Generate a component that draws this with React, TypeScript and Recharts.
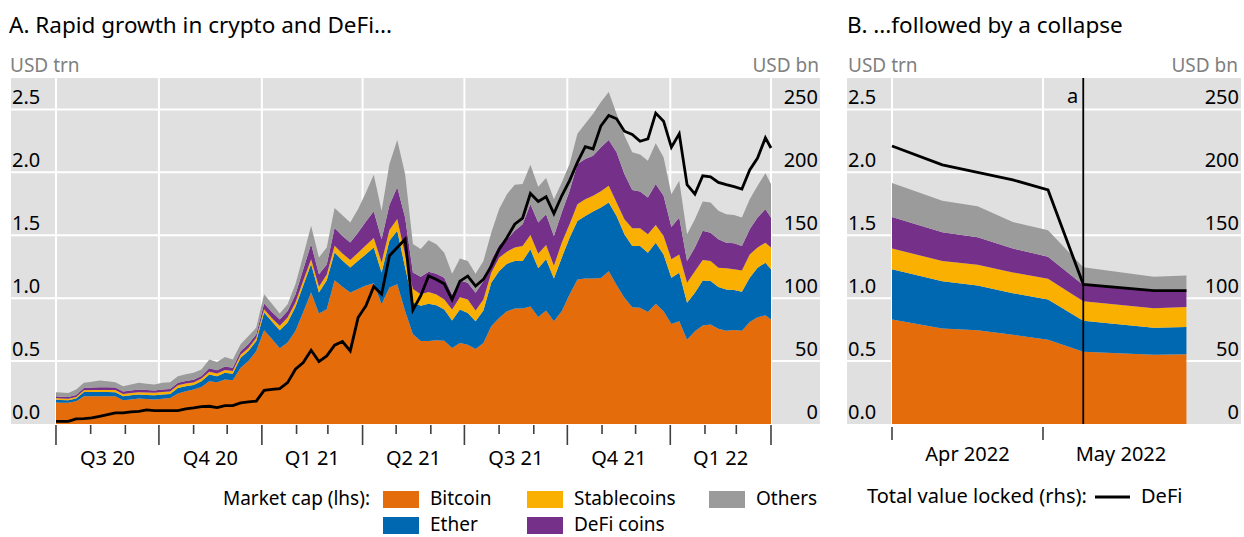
import { ComposedChart, Area, Line, XAxis, YAxis, CartesianGrid, ReferenceLine } from 'recharts';

const FONT = '"Noto Sans", sans-serif';

// Panel A: weekly observations, x = days since 1 Jul 2020
const daysA = [0, ...Array.from({ length: 91 }, (_, k) => 4 + 7 * k), 639];

const bitcoinA = [
  0.170, 0.168, 0.168, 0.181, 0.221, 0.221, 0.221, 0.221, 0.221, 0.189,
  0.195, 0.202, 0.198, 0.194, 0.200, 0.207, 0.242, 0.260, 0.274, 0.295,
  0.340, 0.332, 0.354, 0.348, 0.447, 0.500, 0.580, 0.745, 0.675, 0.602,
  0.647, 0.740, 0.890, 1.045, 0.878, 0.912, 1.143, 1.090, 1.045, 1.072,
  1.100, 1.119, 0.952, 1.085, 1.111, 0.899, 0.714, 0.660, 0.660, 0.665,
  0.662, 0.604, 0.644, 0.630, 0.596, 0.644, 0.777, 0.843, 0.896, 0.918,
  0.918, 0.934, 0.851, 0.902, 0.816, 0.896, 1.029, 1.149, 1.157, 1.157,
  1.160, 1.215, 1.104, 1.003, 0.928, 0.923, 0.891, 0.955, 0.896, 0.795,
  0.816, 0.670, 0.737, 0.782, 0.790, 0.758, 0.742, 0.747, 0.742, 0.811,
  0.848, 0.864, 0.830,
];
const etherA = [
  0.025, 0.022, 0.021, 0.021, 0.034, 0.034, 0.034, 0.033, 0.032, 0.032,
  0.033, 0.032, 0.033, 0.035, 0.035, 0.032, 0.045, 0.040, 0.035, 0.045,
  0.054, 0.048, 0.053, 0.051, 0.080, 0.080, 0.080, 0.141, 0.140, 0.143,
  0.159, 0.190, 0.210, 0.226, 0.167, 0.231, 0.220, 0.210, 0.199, 0.225,
  0.250, 0.284, 0.252, 0.371, 0.425, 0.345, 0.252, 0.279, 0.295, 0.279,
  0.248, 0.218, 0.266, 0.253, 0.220, 0.258, 0.345, 0.372, 0.378, 0.377,
  0.377, 0.454, 0.386, 0.407, 0.341, 0.426, 0.452, 0.465, 0.497, 0.532,
  0.560, 0.546, 0.550, 0.505, 0.487, 0.492, 0.471, 0.486, 0.452, 0.367,
  0.386, 0.293, 0.306, 0.359, 0.346, 0.330, 0.327, 0.319, 0.309, 0.351,
  0.394, 0.418, 0.399,
];
const stablecoinsA = [
  0.012, 0.012, 0.012, 0.013, 0.014, 0.015, 0.016, 0.017, 0.017, 0.018,
  0.018, 0.019, 0.019, 0.019, 0.020, 0.020, 0.021, 0.021, 0.021, 0.022,
  0.022, 0.022, 0.023, 0.023, 0.024, 0.025, 0.025, 0.026, 0.025, 0.035,
  0.040, 0.035, 0.040, 0.039, 0.045, 0.045, 0.053, 0.055, 0.060, 0.065,
  0.070, 0.075, 0.080, 0.085, 0.093, 0.100, 0.106, 0.093, 0.095, 0.085,
  0.079, 0.088, 0.098, 0.106, 0.086, 0.087, 0.080, 0.107, 0.096, 0.107,
  0.120, 0.115, 0.117, 0.114, 0.100, 0.119, 0.107, 0.133, 0.133, 0.125,
  0.130, 0.133, 0.107, 0.120, 0.141, 0.141, 0.146, 0.141, 0.147, 0.147,
  0.146, 0.159, 0.172, 0.162, 0.159, 0.154, 0.168, 0.163, 0.170, 0.186,
  0.160, 0.159, 0.173,
];
const defiCoinsA = [
  0.014, 0.014, 0.014, 0.016, 0.018, 0.020, 0.022, 0.021, 0.020, 0.019,
  0.020, 0.021, 0.020, 0.019, 0.020, 0.020, 0.020, 0.021, 0.022, 0.020,
  0.027, 0.025, 0.028, 0.025, 0.027, 0.030, 0.028, 0.046, 0.050, 0.050,
  0.053, 0.065, 0.090, 0.120, 0.100, 0.080, 0.141, 0.140, 0.139, 0.161,
  0.190, 0.212, 0.185, 0.200, 0.252, 0.298, 0.132, 0.138, 0.160, 0.165,
  0.173, 0.119, 0.133, 0.133, 0.141, 0.147, 0.100, 0.100, 0.098, 0.133,
  0.173, 0.244, 0.247, 0.245, 0.238, 0.240, 0.266, 0.319, 0.319, 0.319,
  0.350, 0.364, 0.399, 0.359, 0.303, 0.292, 0.293, 0.325, 0.319, 0.257,
  0.293, 0.173, 0.187, 0.232, 0.226, 0.226, 0.204, 0.207, 0.194, 0.200,
  0.239, 0.266, 0.239,
];
const othersA = [
  0.032, 0.034, 0.032, 0.043, 0.040, 0.046, 0.053, 0.048, 0.042, 0.043,
  0.048, 0.053, 0.050, 0.047, 0.052, 0.053, 0.052, 0.053, 0.055, 0.052,
  0.070, 0.065, 0.074, 0.066, 0.055, 0.064, 0.053, 0.074, 0.065, 0.048,
  0.053, 0.081, 0.110, 0.146, 0.134, 0.135, 0.159, 0.165, 0.159, 0.185,
  0.230, 0.291, 0.226, 0.325, 0.376, 0.345, 0.226, 0.220, 0.250, 0.234,
  0.200, 0.165, 0.175, 0.173, 0.151, 0.159, 0.219, 0.285, 0.359, 0.367,
  0.319, 0.314, 0.285, 0.287, 0.292, 0.239, 0.212, 0.240, 0.280, 0.332,
  0.360, 0.380, 0.305, 0.306, 0.301, 0.293, 0.292, 0.324, 0.306, 0.261,
  0.293, 0.213, 0.226, 0.234, 0.240, 0.226, 0.227, 0.226, 0.226, 0.239,
  0.253, 0.285, 0.266,
];
// DeFi total value locked, USD bn (rhs)
const defiTvlA = [
  2.1, 2.1, 2.1, 4.0, 4.3, 4.8, 6.1, 7.4, 8.8, 8.8,
  9.6, 10.1, 11.2, 10.6, 10.6, 10.6, 10.6, 12.0, 12.8, 13.8,
  14.1, 13.0, 14.6, 14.6, 16.8, 17.6, 18.2, 26.7, 27.5, 28.1,
  32.9, 43.5, 48.8, 58.6, 49.6, 54.1, 62.6, 65.5, 58.1, 84.6,
  93.9, 109.3, 103.2, 133.7, 140.3, 146.9, 90.7, 102.0, 117.7, 114.9,
  111.4, 98.9, 113.6, 117.6, 109.6, 114.9, 125.5, 138.8, 148.1, 158.8,
  163.6, 183.2, 176.9, 180.6, 167.3, 181.4, 193.4, 208.0, 220.5, 218.6,
  237.0, 245.2, 242.6, 232.7, 230.1, 224.7, 226.6, 247.1, 240.7, 219.9,
  230.6, 190.2, 182.7, 197.3, 196.5, 192.0, 190.2, 188.6, 186.7, 201.9,
  211.4, 227.4, 219.4,
];

// Panel B: x = days since 1 Apr 2022
const daysB = [0, 10, 17, 24, 31, 38, 52, 58.5];
const bitcoinB = [0.83, 0.76, 0.745, 0.71, 0.67, 0.575, 0.55, 0.555];
const etherB = [0.40, 0.375, 0.355, 0.33, 0.32, 0.245, 0.215, 0.215];
const stablecoinsB = [0.165, 0.16, 0.165, 0.165, 0.165, 0.155, 0.155, 0.16];
const defiCoinsB = [0.25, 0.23, 0.22, 0.19, 0.175, 0.13, 0.145, 0.14];
const othersB = [0.27, 0.25, 0.245, 0.21, 0.21, 0.14, 0.105, 0.11];
const defiTvlB = [221, 206, 200, 194, 186, 111, 106, 106];
const eventDayB = 38; // a

const monthStartsA = [0, 31, 62, 92, 123, 153, 184, 215, 243, 274, 304, 335, 365, 396, 427, 457, 488, 518, 549, 580, 608, 639];
const quarterStartsA = [0, 92, 184, 274, 365, 457, 549, 639];
const quarterMidsA = [46, 138, 229, 319.5, 411, 503, 594];
const quarterLabelsA = ['Q3 20', 'Q4 20', 'Q1 21', 'Q2 21', 'Q3 21', 'Q4 21', 'Q1 22'];

const monthStartsB = [0, 30];
const monthMidsB = [15, 45.5];
const monthLabelsB = ['Apr 2022', 'May 2022'];

const lhsTicks = [0, 0.5, 1, 1.5, 2, 2.5];
const rhsTicks = [0, 50, 100, 150, 200, 250];
const gridLevels = [0.5, 1, 1.5, 2, 2.5];

const SERIES = [
  { key: 'bitcoin', name: 'Bitcoin', color: '#e46c0a' },
  { key: 'ether', name: 'Ether', color: '#0067b1' },
  { key: 'stablecoins', name: 'Stablecoins', color: '#f9b000' },
  { key: 'defiCoins', name: 'DeFi coins', color: '#753189' },
  { key: 'others', name: 'Others', color: '#9b9b9b' },
];

const dataA = daysA.map((day, i) => ({
  day,
  bitcoin: bitcoinA[i],
  ether: etherA[i],
  stablecoins: stablecoinsA[i],
  defiCoins: defiCoinsA[i],
  others: othersA[i],
  tvl: defiTvlA[i],
}));

const dataB = daysB.map((day, i) => ({
  day,
  bitcoin: bitcoinB[i],
  ether: etherB[i],
  stablecoins: stablecoinsB[i],
  defiCoins: defiCoinsB[i],
  others: othersB[i],
  tvl: defiTvlB[i],
}));

const LhsTick = ({ x, y, payload }: any) => (
  <text x={x + 1} y={y - 5} fontSize={20} fontFamily={FONT} fill="#000">
    {Number(payload.value).toFixed(1)}
  </text>
);

const RhsTick = ({ x, y, payload }: any) => (
  <text x={x - 2} y={y - 5} fontSize={20} fontFamily={FONT} fill="#000" textAnchor="end">
    {payload.value}
  </text>
);

const QuarterTick = ({ x, y, payload }: any) => {
  const v = payload.value;
  const li = quarterMidsA.indexOf(v);
  if (li >= 0) {
    return (
      <text x={x} y={y + 41} fontSize={20} fontFamily={FONT} fill="#000" textAnchor="middle">
        {quarterLabelsA[li]}
      </text>
    );
  }
  const long = quarterStartsA.includes(v);
  return <line x1={x} x2={x} y1={y + 1} y2={y + (long ? 21 : 10)} stroke="#404040" strokeWidth={1.6} />;
};

const MonthTick = ({ x, y, payload }: any) => {
  const li = monthMidsB.indexOf(payload.value);
  if (li >= 0) {
    return (
      <text x={x} y={y + 37} fontSize={20} fontFamily={FONT} fill="#000" textAnchor="middle">
        {monthLabelsB[li]}
      </text>
    );
  }
  return <line x1={x} x2={x} y1={y + 3} y2={y + 16} stroke="#404040" strokeWidth={1.6} />;
};

const EventLabel = ({ viewBox }: any) => (
  <text x={viewBox.x - 5} y={viewBox.y + 25} fontSize={20} fontFamily={FONT} fill="#000" textAnchor="end">
    a
  </text>
);

function stackAreas() {
  return SERIES.map((s) => (
    <Area
      key={s.key}
      type="linear"
      dataKey={s.key}
      name={s.name}
      stackId="mc"
      stroke="none"
      fill={s.color}
      fillOpacity={1}
      isAnimationActive={false}
    />
  ));
}

// mirrored axes keep the value labels inside the grey plot, like the original
function axes(domainX: [number, number], ticks: number[], tick: any) {
  return [
    <XAxis
      key="x"
      dataKey="day"
      type="number"
      domain={domainX}
      ticks={ticks}
      interval={0}
      tick={tick}
      tickLine={false}
      axisLine={false}
      tickSize={0}
      tickMargin={0}
      height={40}
    />,
    <YAxis
      key="yl"
      domain={[0, 2.75]}
      ticks={lhsTicks}
      interval={0}
      mirror
      width={1}
      tick={<LhsTick />}
      tickLine={false}
      axisLine={false}
      tickSize={0}
      tickMargin={0}
    />,
    <YAxis
      key="yr"
      yAxisId="r"
      orientation="right"
      domain={[0, 275]}
      ticks={rhsTicks}
      interval={0}
      mirror
      width={1}
      tick={<RhsTick />}
      tickLine={false}
      axisLine={false}
      tickSize={0}
      tickMargin={0}
    />,
  ];
}

const txt = { fontFamily: FONT, fill: '#000' };

export default function App() {
  return (
    <div style={{ position: 'absolute', left: 0, top: 0, width: 1244, height: 537, background: '#fff' }}>
      <div style={{ position: 'absolute', left: 0, top: 0 }}>
        <ComposedChart width={830} height={480} data={dataA} margin={{ top: 78, right: 10, bottom: 16, left: 11 }}>
          <CartesianGrid
            fill="#e0e0e0"
            fillOpacity={1}
            stroke="#ffffff"
            strokeWidth={2}
            verticalValues={quarterStartsA}
            horizontalValues={gridLevels}
          />
          {axes([-40.2, 682.8], [...monthStartsA, ...quarterMidsA], <QuarterTick />)}
          {stackAreas()}
          <Line
            type="linear"
            dataKey="tvl"
            name="DeFi"
            yAxisId="r"
            stroke="#000"
            strokeWidth={2.8}
            dot={false}
            isAnimationActive={false}
          />
        </ComposedChart>
      </div>
      <div style={{ position: 'absolute', left: 840, top: 0 }}>
        <ComposedChart width={404} height={480} data={dataB} margin={{ top: 78, right: 3, bottom: 16, left: 7 }}>
          <CartesianGrid
            fill="#e0e0e0"
            fillOpacity={1}
            stroke="#ffffff"
            strokeWidth={2}
            verticalValues={monthStartsB}
            horizontalValues={gridLevels}
          />
          {axes([-8.94, 69.34], [...monthStartsB, ...monthMidsB], <MonthTick />)}
          {stackAreas()}
          <Line
            type="linear"
            dataKey="tvl"
            name="DeFi"
            yAxisId="r"
            stroke="#000"
            strokeWidth={2.8}
            dot={false}
            isAnimationActive={false}
          />
          <ReferenceLine x={eventDayB} stroke="#000" strokeWidth={1.8} label={<EventLabel />} />
        </ComposedChart>
      </div>
      <svg width={1244} height={537} style={{ position: 'absolute', left: 0, top: 0, pointerEvents: 'none' }}>
        <text x={9} y={33} fontSize={22.5} {...txt}>A. Rapid growth in crypto and DeFi...</text>
        <text x={847} y={33} fontSize={22.5} {...txt}>B. ...followed by a collapse</text>
        <text x={10} y={72} fontSize={19} fontFamily={FONT} fill="#808080">USD trn</text>
        <text x={819} y={72} fontSize={19} fontFamily={FONT} fill="#808080" textAnchor="end">USD bn</text>
        <text x={848} y={72} fontSize={19} fontFamily={FONT} fill="#808080">USD trn</text>
        <text x={1238} y={72} fontSize={19} fontFamily={FONT} fill="#808080" textAnchor="end">USD bn</text>

        <text x={370} y={505} fontSize={19} {...txt} textAnchor="end">Market cap (lhs):</text>
        {[
          { s: SERIES[0], x: 383, y: 505 },
          { s: SERIES[2], x: 527, y: 505 },
          { s: SERIES[4], x: 709, y: 505 },
          { s: SERIES[1], x: 383, y: 531 },
          { s: SERIES[3], x: 527, y: 531 },
        ].map(({ s, x, y }) => (
          <g key={s.key}>
            <rect x={x} y={y - 14} width={36} height={17} fill={s.color} />
            <text x={x + 47} y={y} fontSize={19} {...txt}>{s.name}</text>
          </g>
        ))}

        <text x={867} y={503} fontSize={20} {...txt}>Total value locked (rhs):</text>
        <line x1={1095} x2={1130} y1={497} y2={497} stroke="#000" strokeWidth={2.8} />
        <text x={1141} y={503} fontSize={20} {...txt}>DeFi</text>
      </svg>
    </div>
  );
}
